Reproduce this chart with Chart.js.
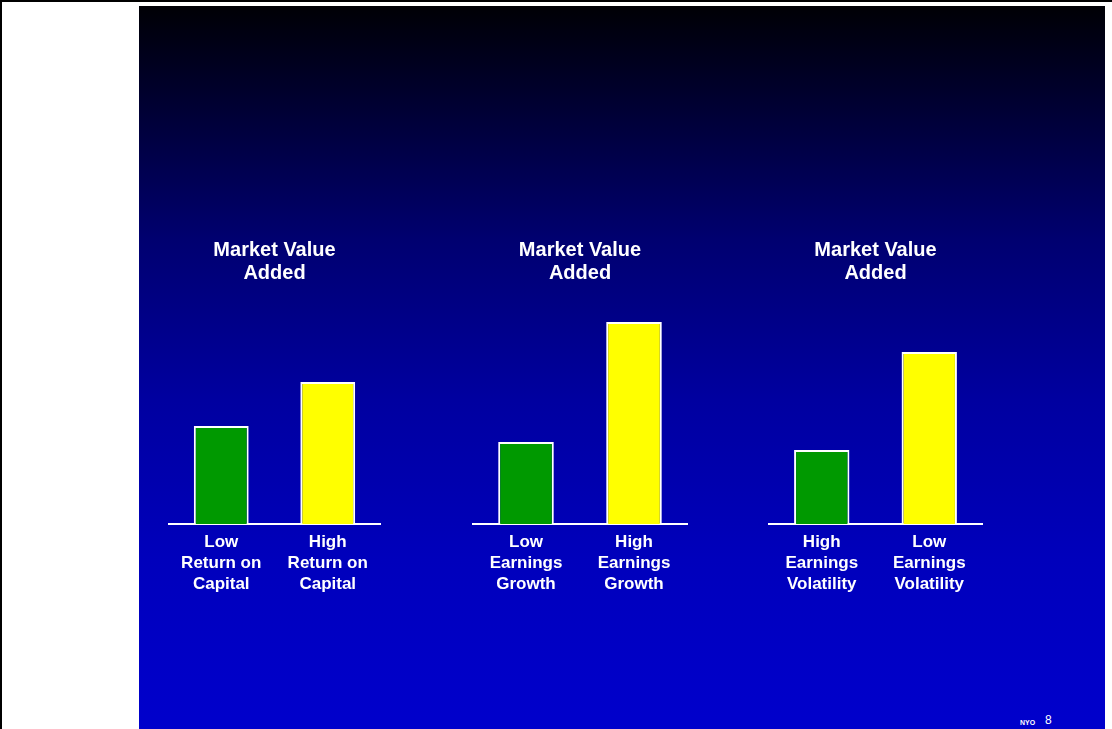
<!DOCTYPE html>
<html lang="en">
<head>
  <meta charset="UTF-8">
  <title>Market Value Added</title>
  <script src="https://cdn.jsdelivr.net/npm/chart.js"></script>
  <style>
    body { margin: 0; background: #fff; font-family: "Liberation Sans", Arial, sans-serif; }
    #frame { position: absolute; left: 0; top: 0; width: 1112px; height: 729px; overflow: hidden;
             border-top: 2px solid #000; border-left: 2px solid #000; box-sizing: border-box; }
    #panel { position: absolute; left: 137px; top: 4px; width: 966px; height: 723px;
             background: linear-gradient(to bottom, #000005 0px, #000070 234px, #0000a0 394px, #0000bc 554px, #0000cc 723px); }
    canvas { position: absolute; }
    .nyo { position: absolute; left: 1018px; top: 717px; color: #fff; font: bold 7px "Liberation Sans", Arial, sans-serif; }
    .page { position: absolute; left: 1043px; top: 711px; color: #fff; font: 12px "Liberation Sans", Arial, sans-serif; }
  </style>
</head>
<body>
  <div id="frame">
    <div id="panel"></div>
    <canvas id="c1" width="213" height="373" style="left:166px; top:229px;"></canvas>
    <canvas id="c2" width="216" height="373" style="left:470px; top:229px;"></canvas>
    <canvas id="c3" width="215" height="373" style="left:766px; top:229px;"></canvas>
    <div class="nyo">NYO</div>
    <div class="page">8</div>
  </div>

  <script>
    // values (arbitrary units, scale 0..239)
    const titleLines = ['Market Value', 'Added'];
    const labels1 = [['Low', 'Return on', 'Capital'], ['High', 'Return on', 'Capital']];
    const labels2 = [['Low', 'Earnings', 'Growth'], ['High', 'Earnings', 'Growth']];
    const labels3 = [['High', 'Earnings', 'Volatility'], ['Low', 'Earnings', 'Volatility']];
    const values1 = [98, 142];
    const values2 = [82, 202];
    const values3 = [74, 172];
    const barColors = ['#009900', '#ffff00'];
    const yMax = 239;

    const fontFamily = '"Liberation Sans", Arial, sans-serif';

    function createChart(canvasId, labels, values) {
      const ctx = document.getElementById(canvasId).getContext('2d');
      return new Chart(ctx, {
        type: 'bar',
        data: {
          labels: labels,
          datasets: [{
            data: values,
            backgroundColor: barColors,
            borderColor: '#ffffff',
            borderWidth: 2,
            categoryPercentage: 1,
            barPercentage: 0.515
          }]
        },
        options: {
          responsive: false,
          animation: false,
          layout: { padding: 0 },
          plugins: {
            legend: { display: false },
            tooltip: { enabled: false },
            title: {
              display: true,
              text: titleLines,
              color: '#ffffff',
              font: { family: fontFamily, size: 20, weight: 'bold', lineHeight: 1.15 },
              padding: { top: 8, bottom: 0 }
            }
          },
          scales: {
            x: {
              grid: { display: false, drawTicks: false },
              border: { display: true, color: '#ffffff', width: 2 },
              ticks: {
                color: '#ffffff',
                padding: 8,
                maxRotation: 0,
                autoSkip: false,
                font: { family: fontFamily, size: 17, weight: 'bold', lineHeight: 21 / 17 }
              },
              afterFit: (scale) => { scale.height = 80; }
            },
            y: { display: false, min: 0, max: yMax }
          }
        }
      });
    }

    createChart('c1', labels1, values1);
    createChart('c2', labels2, values2);
    createChart('c3', labels3, values3);
  </script>
</body>
</html>
